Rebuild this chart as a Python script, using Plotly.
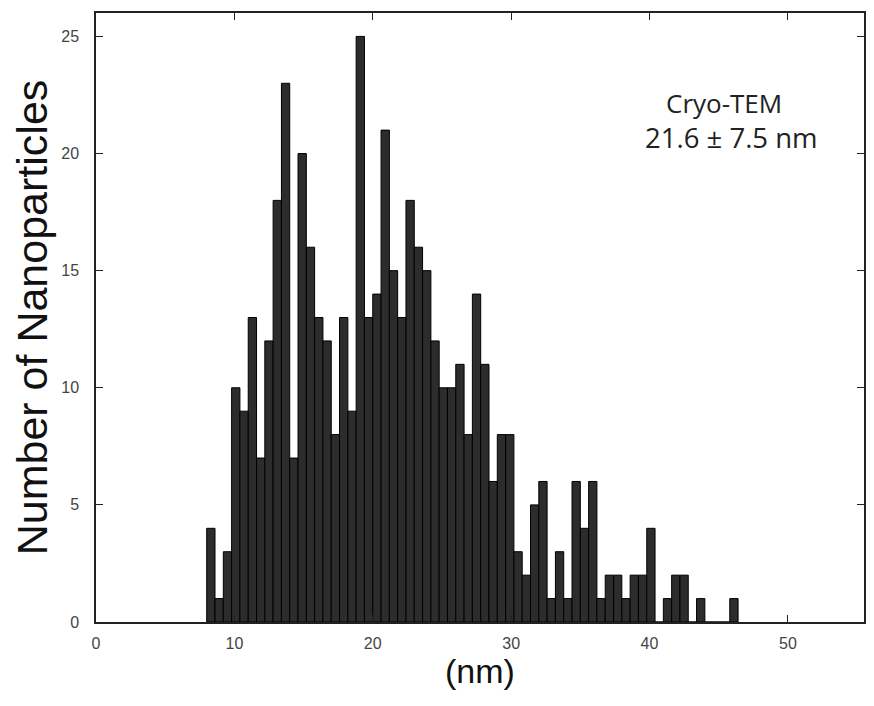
import plotly.graph_objects as go

# Histogram data (bins of 0.6 nm starting at 8.0 nm)
bin_start = 8.0
bin_width = 0.6
counts = [4, 1, 3, 10, 9, 13, 7, 12, 18, 23,
          7, 20, 16, 13, 12, 8, 13, 9, 25, 13,
          14, 21, 15, 13, 18, 16, 15, 12, 10, 10,
          11, 8, 14, 11, 6, 8, 8, 3, 2, 5,
          6, 1, 3, 1, 6, 4, 6, 1, 2, 2,
          1, 2, 2, 4, 0, 1, 2, 2, 0, 1,
          0, 0, 0, 1]
x_ticks = [0, 10, 20, 30, 40, 50]
y_ticks = [0, 5, 10, 15, 20, 25]
x_title = "(nm)"
y_title = "Number of Nanoparticles"
label_lines = ["Cryo-TEM", "21.6 ± 7.5 nm"]

centers = [bin_start + bin_width * (i + 0.5) for i in range(len(counts))]

fig = go.Figure(go.Bar(
    x=centers, y=counts, width=bin_width,
    marker=dict(color="#2c2c2c", line=dict(color="#000000", width=1)),
))

axis_common = dict(
    showline=True, linecolor="#222222", linewidth=1.5, mirror="ticks",
    ticks="inside", ticklen=7, tickwidth=1.3, tickcolor="#222222",
    showgrid=False, zeroline=False,
    tickfont=dict(family="Liberation Sans, Arial", size=16, color="#444444"),
)

fig.update_layout(
    width=858, height=690,
    margin=dict(l=88, r=0, t=5, b=76),
    paper_bgcolor="white", plot_bgcolor="white",
    showlegend=False,
    xaxis=dict(range=[0, 55.5], tickvals=x_ticks, ticklabelstandoff=6,
               title=dict(text=x_title, standoff=7,
                          font=dict(family="Liberation Sans, Arial", size=34, color="#111111")),
               **axis_common),
    yaxis=dict(range=[0, 26], tickvals=y_ticks, ticklabelstandoff=12,
               title=dict(text=y_title, standoff=4,
                          font=dict(family="Liberation Sans, Arial", size=43, color="#111111")),
               **axis_common),
    annotations=[
        dict(text=label_lines[0], x=0.818, y=0.852, xref="paper", yref="paper",
             showarrow=False, xanchor="center", yanchor="middle",
             font=dict(family="Open Sans", size=26, color="#222222")),
        dict(text=label_lines[1], x=0.828, y=0.795, xref="paper", yref="paper",
             showarrow=False, xanchor="center", yanchor="middle",
             font=dict(family="Open Sans", size=27.5, color="#222222")),
    ],
)

fig.write_html("out.html")
